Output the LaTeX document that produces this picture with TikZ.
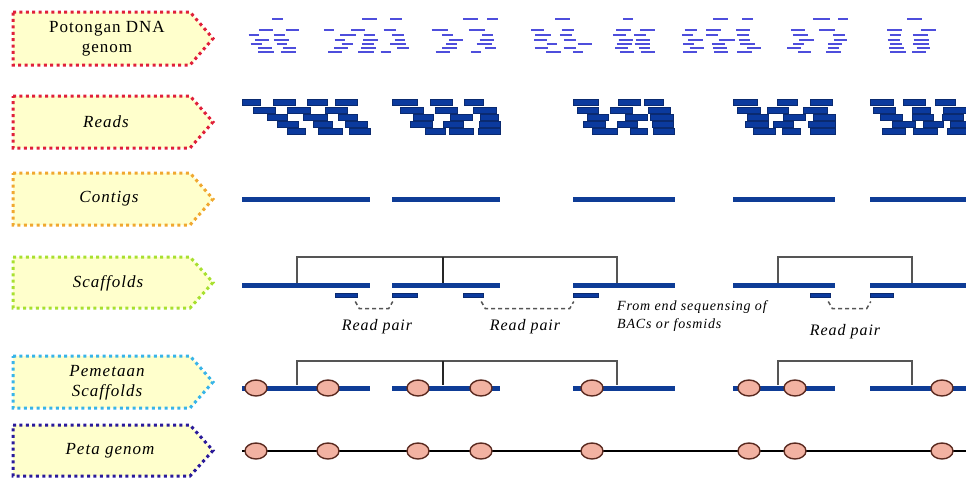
\documentclass[tikz,border=0pt]{standalone}
\usepackage{fontspec}
\setmainfont{Liberation Serif}
\newfontfamily\lblfont[LetterSpace=6]{Liberation Serif}
\usetikzlibrary{calc,shapes.geometric}

\definecolor{fragblue}{HTML}{4E4EDC}
\definecolor{readblue}{HTML}{0B3A9E}
\definecolor{readedge}{HTML}{0A2A70}
\definecolor{lineblue}{HTML}{0E3C96}
\definecolor{boxfill}{HTML}{FFFFCC}
\definecolor{cred}{HTML}{E0203A}
\definecolor{corange}{HTML}{F0A830}
\definecolor{cgreen}{HTML}{A8E030}
\definecolor{ccyan}{HTML}{38B4E8}
\definecolor{cindigo}{HTML}{2A1A9A}
\definecolor{bracketgray}{HTML}{555555}
\definecolor{markfill}{HTML}{F2B2A2}
\definecolor{markedge}{HTML}{5A2A20}

\tikzset{
  tagbox/.style={fill=boxfill, line width=3pt, dash pattern=on 3pt off 3.4pt, line join=miter},
  tagtext/.style={font=\lblfont\fontsize{17}{20}\selectfont, align=center, inner sep=0pt},
  tagital/.style={tagtext, font=\lblfont\fontsize{17}{20}\selectfont\itshape},
  frag/.style={draw=fragblue, line width=2pt},
  readrect/.style={fill=readblue, draw=readedge, line width=0.6pt},
  contig/.style={draw=lineblue, line width=5pt},
  genomeline/.style={draw=black, line width=2.8pt},
  bracket/.style={draw=bracketgray, line width=1.5pt},
  sread/.style={rectangle, fill=readblue, draw=readedge, line width=0.5pt, inner sep=0pt, minimum height=4.5pt},
  pairc/.style={draw=bracketgray, line width=1.5pt, dash pattern=on 4pt off 3pt},
  pairlbl/.style={font=\lblfont\fontsize{16}{18}\selectfont\itshape, inner sep=0pt},
  notelbl/.style={font=\lblfont\fontsize{14}{18}\selectfont\itshape, align=left, inner sep=0pt},
  marker/.style={ellipse, fill=markfill, draw=markedge, line width=1.4pt, minimum width=22pt, minimum height=16pt, inner sep=0pt}
}

\begin{document}
\begin{tikzpicture}[x=1pt,y=-1pt]
\useasboundingbox (0,0) rectangle (966,477);

% ---------- row labels (dotted arrow tags) ----------
\foreach \col/\t/\b in {cred/12/65, cred/96/148, corange/173/225, cgreen/257/308, ccyan/356/408, cindigo/425/476}{
  \draw[tagbox, draw=\col] (13,\t) -- (190,\t) -- (213,{(\t+\b)/2}) -- (190,\b) -- (13,\b) -- cycle;
}
\node[tagtext] (tag-dna) at (107,39) {Potongan DNA\\genom};
\node[tagital] (tag-reads) at (106,122) {Reads};
\node[tagital] (tag-contigs) at (109,199) {Contigs};
\node[tagital] (tag-scaffolds) at (108,283) {Scaffolds};
\node[tagital] (tag-map) at (107,383) {Pemetaan\\Scaffolds};
\node[tagital] (tag-genome) at (110,451) {Peta genom};

% ---------- genomic DNA fragments ----------
\pgfmathsetseed{17}
\foreach \a/\b in {247/305, 322/418, 428/507, 522/600, 610/665, 672/770, 780/858, 873/940}{
  \foreach \yy in {30,35,39.5,44,48,52}{
    \pgfmathtruncatemacro\n{max(2,(\b-\a)/27)}
    \pgfmathsetmacro\stp{(\b-\a-14)/\n}
    \pgfmathsetmacro\off{rnd*\stp*0.5}
    \foreach \k in {1,...,\n}{
      \pgfmathsetmacro\xx{\a+\off+(\k-1)*\stp+rnd*\stp*0.35}
      \pgfmathsetmacro\ll{10+rnd*6}
      \draw[frag] (\xx,\yy) -- ++(\ll,0);
    }
  }
}
\foreach \a/\b in {272/283, 362/377, 390/402, 463/478, 487/498, 555/570, 623/633, 713/728, 742/753, 813/830, 838/848, 907/922}{
  \draw[frag] (\a,19) -- (\b,19);
}

% ---------- reads ----------
\foreach \y/\a/\b in {
  102/242/260, 102/273/295, 102/307/327, 102/335/357,
  110/253/275, 110/287/310, 110/325/347,
  117/267/287, 117/303/327, 117/338/357,
  124/277/298, 124/313/332, 124/345/367,
  131/287/305, 131/318/342, 131/349/370,
  102/392/417, 102/430/452, 102/464/483,
  110/400/423, 110/435/457, 110/473/496,
  117/413/433, 117/450/472, 117/480/498,
  124/410/432, 124/443/463, 124/479/500,
  131/425/445, 131/449/473, 131/478/500,
  102/573/598, 102/618/640, 102/644/663,
  110/577/598, 110/610/632, 110/648/670,
  117/587/608, 117/625/647, 117/650/673,
  124/583/605, 124/617/637, 124/652/673,
  131/592/617, 131/630/647, 131/653/674,
  102/733/757, 102/777/797, 102/810/832,
  110/737/760, 110/767/788, 110/803/827,
  117/747/768, 117/783/805, 117/813/835,
  124/745/768, 124/773/793, 124/808/835,
  131/753/775, 131/782/800, 131/810/835,
  102/870/893, 102/903/925, 102/935/955,
  110/873/895, 110/912/930, 110/943/966,
  117/880/902, 117/912/933, 117/942/963,
  124/892/915, 124/923/943, 124/950/966,
  131/882/905, 131/913/937, 131/947/966}{
  \filldraw[readrect] (\a,{\y-2.8}) rectangle (\b,{\y+2.8});
}

% ---------- contigs ----------
\foreach \a/\b in {242/370, 392/500, 573/675, 733/835, 870/966}{
  \draw[contig] (\a,199) -- (\b,199);
}

% ---------- scaffolds ----------
\foreach \a/\b in {242/370, 392/500, 573/675, 733/835, 870/966}{
  \draw[contig] (\a,285) -- (\b,285);
}
\draw[bracket] (297,283) |- (617,257) -- (617,283);
\draw[bracket, draw=black!85] (443,257) -- (443,283);
\draw[bracket] (778,283) |- (912,257) -- (912,283);

\node[sread, minimum width=22pt] (sr1) at (346,295) {};
\node[sread, minimum width=25pt] (sr2) at (404.5,295) {};
\node[sread, minimum width=20pt] (sr3) at (473,295) {};
\node[sread, minimum width=25pt] (sr4) at (585.5,295) {};
\node[sread, minimum width=20pt] (sr5) at (820,295) {};
\node[sread, minimum width=23pt] (sr6) at (881.5,295) {};

\draw[pairc] ($(sr1.south east)+(-2,4)$) -- ++(4,7) -- ($(sr2.south west)+(-3,11)$) -- ($(sr2.south west)+(1,4)$);
\draw[pairc] ($(sr3.south east)+(-2,4)$) -- ++(4,7) -- ($(sr4.south west)+(-3,11)$) -- ($(sr4.south west)+(1,4)$);
\draw[pairc] ($(sr5.south east)+(-2,4)$) -- ++(4,7) -- ($(sr6.south west)+(-3,11)$) -- ($(sr6.south west)+(1,4)$);

\node[pairlbl] (rp1) at (377,327) {Read pair};
\node[pairlbl] (rp2) at (525,327) {Read pair};
\node[pairlbl] (rp3) at (845,332) {Read pair};
\node[notelbl, anchor=west] (bac) at (617,316) {From end sequensing of\\BACs or fosmids};

% ---------- mapped scaffolds ----------
\foreach \a/\b in {242/370, 392/500, 573/675, 733/835, 870/966}{
  \draw[contig] (\a,388) -- (\b,388);
}
\draw[bracket] (297,385) |- (617,361) -- (617,385);
\draw[bracket, draw=black!85] (443,361) -- (443,385);
\draw[bracket] (778,385) |- (912,361) -- (912,385);

\foreach \x [count=\i] in {256, 328, 418, 481, 592, 749, 795, 942}{
  \node[marker] (pm\i) at (\x,388) {};
}

% ---------- genome map ----------
\coordinate (g-start) at (242,451);
\coordinate (g-end) at (966,451);
\draw[genomeline] (g-start) -- (g-end);
\foreach \x [count=\i] in {256, 328, 418, 481, 592, 749, 795, 942}{
  \node[marker] (pg\i) at (\x,451) {};
}
\end{tikzpicture}
\end{document}
